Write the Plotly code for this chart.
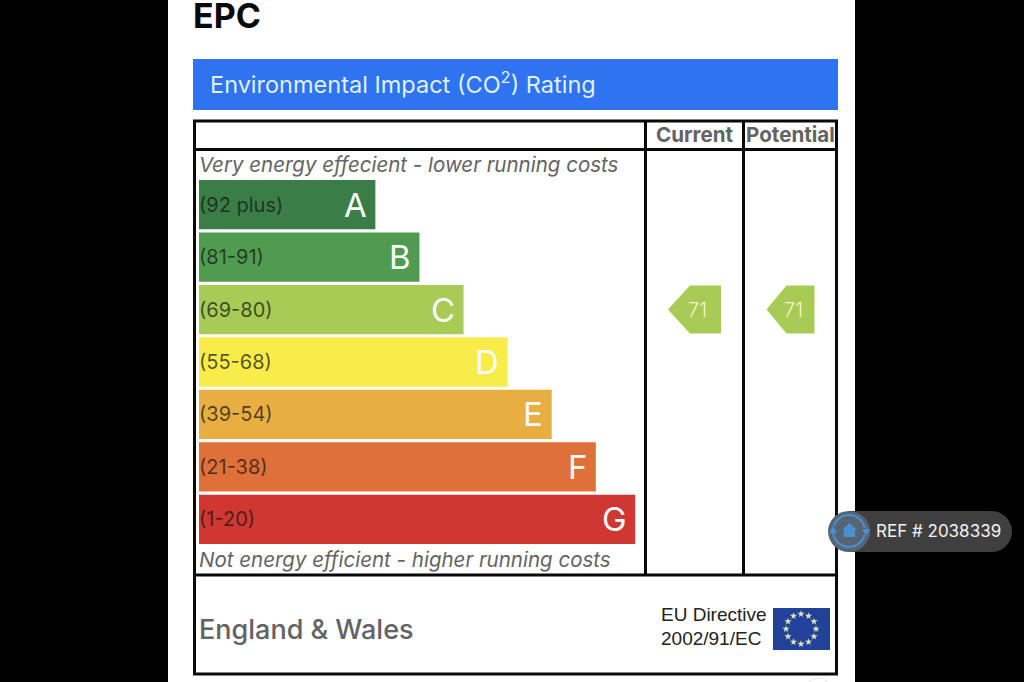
import plotly.graph_objects as go

# epc bands, top to bottom
bands = ["(92 plus)", "(81-91)", "(69-80)", "(55-68)", "(39-54)", "(21-38)", "(1-20)"]
letters = ["A", "B", "C", "D", "E", "F", "G"]
bar_lengths = [40, 50, 60, 70, 80, 90, 99]
bar_colors = ["#3b7d47", "#4f9c50", "#a8cb56", "#f8ec4b", "#e9ae41", "#e0703a", "#d03732"]

columns = ["Current", "Potential"]
ratings = [71, 71]
rating_band = "(69-80)"
rating_color = "#a8cb56"

star_angles = [0, 30, 60, 90, 120, 150, 180, 210, 240, 270, 300, 330]
star_radius = [1] * 12

W = 1024
H = 682
FONT = "Inter"
GREY = "#636363"
BLACK = "#0a0a0a"
PILL = "#3f3f3f"
BADGE_BLUE = "#4a8fd0"


# reference pixels to paper coords
def px(x):
    return x / W


def py(y):
    return 1 - y / H


def box(x0, y0, x1, y1, fill=None, line=None, width=0, kind="rect"):
    return dict(type=kind, xref="paper", yref="paper", x0=px(x0), x1=px(x1), y0=py(y0), y1=py(y1),
                fillcolor=fill, line=dict(color=line, width=width), layer="below")


def rule(x0, y0, x1, y1):
    return dict(type="line", xref="paper", yref="paper", x0=px(x0), x1=px(x1), y0=py(y0), y1=py(y1),
                line=dict(color=BLACK, width=3), layer="below")


def poly(points, fill):
    path = "M " + " L ".join(f"{px(x)} {py(y)}" for x, y in points) + " Z"
    return dict(type="path", xref="paper", yref="paper", path=path, fillcolor=fill, line=dict(width=0), layer="below")


def label(x, y, text, size, color=GREY, anchor="left", **font):
    return dict(xref="paper", yref="paper", x=px(x), y=py(y), text=text, showarrow=False, xanchor=anchor,
                yanchor="middle", borderpad=0, font=dict(family=font.pop("family", FONT), size=size, color=color, **font))


def arrow(column, half_w, tip):
    # pointed tag, sized in pixels around the rating position
    path = f"M {half_w} -24 L {half_w} 24 L {-half_w + tip} 24 L {-half_w} 0 L {-half_w + tip} -24 Z"
    return dict(type="path", xref="x2", yref="y", xsizemode="pixel", ysizemode="pixel", xanchor=column,
                yanchor=rating_band, path=path, fillcolor=rating_color, line=dict(width=0), layer="below")


fig = go.Figure()

fig.add_trace(go.Bar(y=bands, x=bar_lengths, orientation="h", marker=dict(color=bar_colors, line=dict(width=0)),
                     hoverinfo="skip", showlegend=False))
fig.add_trace(go.Scatterpolar(r=star_radius, theta=star_angles, mode="markers", subplot="polar",
                              marker=dict(symbol="star", size=5.5, color="#dfe6b0", line=dict(width=0)),
                              hoverinfo="skip", showlegend=False))

shapes = [
    box(168, 0, 855, 682, fill="#ffffff"),
    box(806, 678, 830, 702, line="#eeeeee", width=1.5, kind="circle"),
    box(193, 59, 838, 110, fill="#2f73f0"),
    box(194.5, 121, 836.5, 674, line=BLACK, width=3),
    rule(193, 149.5, 838, 149.5),
    rule(193, 575, 838, 575),
    rule(645.5, 121, 645.5, 575),
    rule(743.5, 121, 743.5, 575),
    box(773, 608, 830, 650, fill="#22429a"),
    # ref badge
    box(848, 511, 992, 552, fill=PILL),
    box(971, 511, 1012, 552, fill=PILL, kind="circle"),
    box(828, 511, 870, 552, fill="#566575", kind="circle"),
    box(833, 515, 865, 547, line=BADGE_BLUE, width=2, kind="circle"),
    box(829, 526, 837, 533, fill="#566575"),
    box(862, 528, 870, 535, fill="#566575"),
    poly([(833, 526), (829, 533), (837, 533)], BADGE_BLUE),
    poly([(866, 536), (862, 529), (870, 529)], BADGE_BLUE),
    poly([(849.5, 523), (857, 530), (855, 530), (855, 537), (844, 537), (844, 530), (842, 530)], BADGE_BLUE),
    arrow("Current", 26.5, 22),
    arrow("Potential", 24, 20),
]
fig.update_layout(shapes=shapes)

annotations = [
    label(192, 15.5, "EPC", 34, color="#0a0a0a", weight=700),
    label(209, 83, "Environmental Impact (CO<sup>2</sup>) Rating", 23.5, color="#dff1fb"),
    label(694.5, 134, "Current", 20.6, anchor="center", weight=700),
    label(790, 134, "Potential", 20.6, anchor="center", weight=700),
    label(198, 164.5, "Very energy effecient - lower running costs", 20.5, style="italic"),
    label(198, 559.5, "Not energy efficient - higher running costs", 20.5, style="italic"),
    label(198, 629, "England &amp; Wales", 27, weight=500),
    label(660, 614, "EU Directive", 19, color="#222222", family="Liberation Sans"),
    label(660, 638, "2002/91/EC", 19, color="#222222", family="Liberation Sans"),
    label(875, 530.5, "REF # 2038339", 17, color="#f2f2f2"),
]
for band, length, letter in zip(bands, bar_lengths, letters):
    annotations.append(dict(x=length, y=band, xref="x", yref="y", text=letter, showarrow=False, xanchor="right",
                            yanchor="middle", xshift=-6.5, font=dict(family=FONT, size=33, color="#fafafa")))
    annotations.append(dict(x=0, y=band, xref="x", yref="y", text=band, showarrow=False, xanchor="left",
                            yanchor="middle", xshift=-2, font=dict(family=FONT, size=20, color="rgba(20,20,20,0.72)")))
for column, rating in zip(columns, ratings):
    annotations.append(dict(x=column, y=rating_band, xref="x2", yref="y", text=str(rating), showarrow=False,
                            xshift=3, font=dict(family=FONT, size=20, color="#f0f5d2", weight=300)))
fig.update_layout(annotations=annotations)

fig.update_layout(
    width=W,
    height=H,
    margin=dict(l=0, r=0, t=0, b=0),
    paper_bgcolor="#000000",
    plot_bgcolor="rgba(0,0,0,0)",
    bargap=0.06,
    xaxis=dict(domain=[px(199), px(635.5)], range=[0, 99], visible=False, fixedrange=True),
    yaxis=dict(domain=[py(545.5), py(178.5)], autorange="reversed", type="category", categoryorder="array",
               categoryarray=bands, visible=False, fixedrange=True),
    xaxis2=dict(domain=[px(646), px(836)], range=[-0.505, 1.474], type="category", categoryorder="array",
                categoryarray=columns, anchor="y", visible=False, fixedrange=True),
    polar=dict(domain=dict(x=[px(783), px(819)], y=[py(647), py(611)]), bgcolor="rgba(0,0,0,0)",
               radialaxis=dict(visible=False, range=[0, 1.2]),
               angularaxis=dict(visible=False)),
)

fig.write_html("out.html", config=dict(displayModeBar=False),
               post_script="document.body.style.margin='0';document.body.style.background='#000';")
